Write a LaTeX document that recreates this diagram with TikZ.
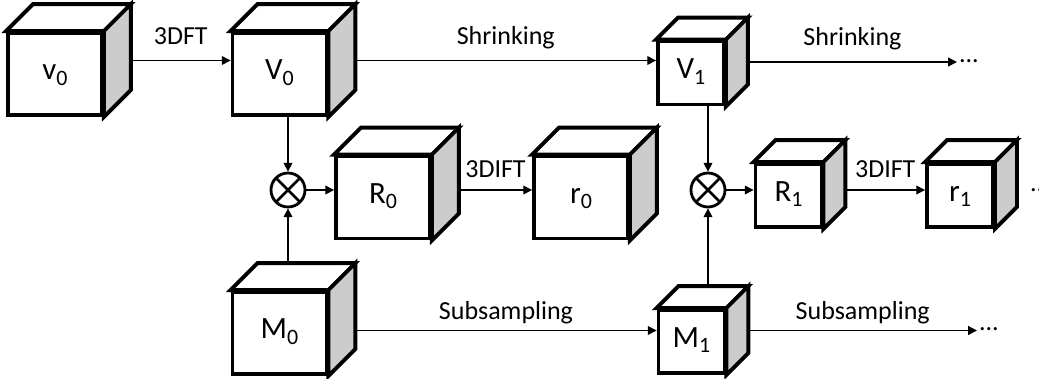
\documentclass[tikz,border=0pt]{standalone}
\usepackage{fontspec}
\setmainfont{Carlito}
\usepackage{tikz}
\usetikzlibrary{positioning,arrows.meta,calc}
\definecolor{sidegray}{HTML}{CCCCCC}
\newcommand{\idx}[1]{\raisebox{-3.2pt}{\fontsize{12.5}{13}\selectfont #1}}
% cube: name, face style, front centre, depth (px), label
\newcommand{\cube}[5]{%
  \node[#2] (#1) at (#3) {#5};
  \draw[cubeline, fill=white] (#1.north west) -- ++(#4,-#4)
    -- ([shift={(#4,-#4)}]#1.north east) -- (#1.north east) -- cycle;
  \draw[cubeline, fill=sidegray] (#1.north east) -- ++(#4,-#4)
    -- ([shift={(#4,-#4)}]#1.south east) -- (#1.south east) -- cycle;
  \coordinate (#1-r) at ([shift={(#4,-#4/2)}]#1.east);
  \coordinate (#1-t) at ([shift={(0,-#4)}]#1.north);
}

\begin{document}
\begin{tikzpicture}[
  x=0.02cm, y=-0.02cm,
  bigface/.style={
    draw, fill=white, line width=2.2pt,
    minimum width=1.88cm, minimum height=1.64cm, inner sep=0pt,
    text height=0.644em, text depth=0pt,
    font=\fontsize{17.6}{20}\selectfont,
  },
  smallface/.style={bigface, minimum width=1.32cm, minimum height=1.26cm},
  cubeline/.style={line width=2.2pt, line join=miter},
  mult/.style={
    circle, draw, line width=1.6pt, minimum size=0.68cm, inner sep=0pt,
    path picture={\draw[line width=1.6pt]
      (path picture bounding box.north west) -- (path picture bounding box.south east)
      (path picture bounding box.south west) -- (path picture bounding box.north east);},
  },
  flow/.style={line width=0.75pt, -{Triangle[length=5pt, width=5pt]}},
  lbl/.style={font=\fontsize{14.8}{16}\selectfont,
    text height=0.75em, text depth=0.25em, inner sep=2pt},
  trail/.style={font=\fontsize{14.8}{16}\selectfont, anchor=west, inner sep=1pt},
]
\useasboundingbox (0,0) rectangle (1039,379);

% === CUBES ===
\cube{v0}{bigface}{55,74}{27}{v\idx{0}}
\cube{V0}{bigface}{279.5,74}{27}{V\idx{0}}
\cube{R0}{bigface}{383,197.5}{27}{R\idx{0}}
\cube{r0}{bigface}{581,197.5}{27}{r\idx{0}}
\cube{M0}{bigface}{279.5,333}{27}{M\idx{0}}

\cube{V1}{smallface}{691,73}{22}{V\idx{1}}
\cube{R1}{smallface}{788.5,195.5}{22}{R\idx{1}}
\cube{r1}{smallface}{960,195.5}{22}{r\idx{1}}
\cube{M1}{smallface}{691.5,341.5}{22}{M\idx{1}}

% === MULTIPLIERS ===
\node[mult] (x0) at (288,190) {};
\node[mult] (x1) at (708,190) {};

% === TRAILING DOTS ===
\node[trail] (endV) at (957,61) {...};
\node[trail] (endM) at (977,329) {...};
\node[trail] (endr) at (1028,190) {...};

% === FIRST STAGE ===
\draw[flow] (v0-r) -- (v0-r -| V0.west) node[lbl, midway, above=4.5pt] {3DFT};
\draw[flow] (V0-r) -- (V0-r -| V1.west) node[lbl, midway, above=4.5pt] {Shrinking};
\draw[flow] (x0 |- V0.south) -- (x0.north);
\draw[flow] (x0 |- M0-t) -- (x0.south);
\draw[flow] (x0.east) -- (x0.east -| R0.west);
\draw[flow] (x0 -| R0-r) -- (x0 -| r0.west) node[lbl, midway, above=2.5pt] {3DIFT};
\draw[flow] (M1-r -| M0-r) -- (M1-r -| M1.west) node[lbl, midway, above=1.5pt] {Subsampling};

% === SECOND STAGE ===
\draw[flow] (V1-r) -- (V1-r -| endV.west) node[lbl, midway, above=4.5pt] {Shrinking};
\draw[flow] (x1 |- V1.south) -- (x1.north);
\draw[flow] (x1 |- M1-t) -- (x1.south);
\draw[flow] (x1.east) -- (x1.east -| R1.west);
\draw[flow] (x1 -| R1-r) -- (x1 -| r1.west) node[lbl, midway, above=2.5pt] {3DIFT};
\draw[flow] (M1-r) -- (M1-r -| endM.west) node[lbl, midway, above=1.5pt] {Subsampling};

\end{tikzpicture}
\end{document}
